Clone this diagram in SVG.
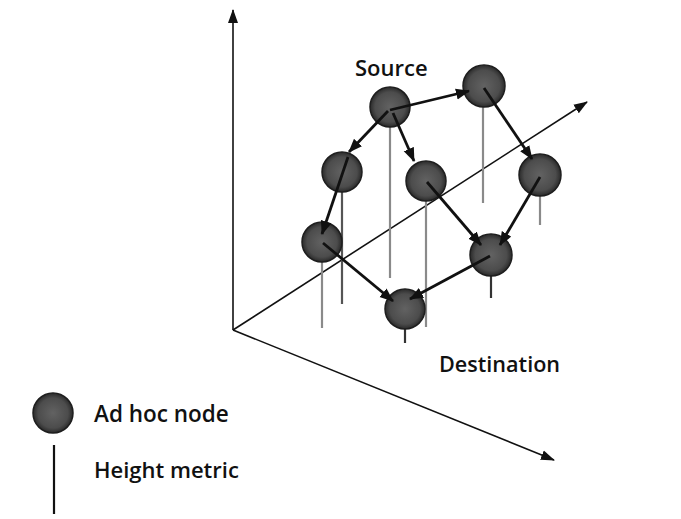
<svg xmlns="http://www.w3.org/2000/svg" width="681" height="519" viewBox="0 0 681 519">
<style>
.axis{stroke:#111;stroke-width:1.6;fill:none}
.edge{stroke:#111;stroke-width:2.8;fill:none}
.hm{stroke:#8a8a8a;stroke-width:2.2}
.node{fill:url(#ng);stroke:#1e1e1e;stroke-width:1.5}
.lbl{font-family:"Open Sans",sans-serif;font-weight:600;fill:#111}
</style>
<defs>
<radialGradient id="ng" cx="0.5" cy="0.5" r="0.5">
<stop offset="0" stop-color="#626262"/>
<stop offset="0.75" stop-color="#4c4c4c"/>
<stop offset="1" stop-color="#2a2a2a"/>
</radialGradient>
<marker id="ax" markerUnits="userSpaceOnUse" markerWidth="14" markerHeight="12" refX="13" refY="6" orient="auto">
<path d="M0,1 L14,6 L0,11 Z" fill="#111"/>
</marker>
<marker id="ar" markerUnits="userSpaceOnUse" markerWidth="14" markerHeight="12" refX="13" refY="6" orient="auto">
<path d="M0,0.5 L14,6 L0,11.5 Z" fill="#111"/>
</marker>
</defs>
<rect width="681" height="519" fill="#fff"/>
<g id="axes">
<line class="axis" x1="233" y1="330" x2="233" y2="10" marker-end="url(#ax)"/>
<line class="axis" x1="233" y1="330" x2="587" y2="102" marker-end="url(#ax)"/>
<line class="axis" x1="233" y1="330" x2="554" y2="460" marker-end="url(#ax)"/>
</g>
<g id="height-metrics">
<line class="hm" x1="390" y1="127" x2="390" y2="278"/>
<line class="hm" x1="483" y1="106" x2="483" y2="203"/>
<line class="hm" x1="342" y1="192" x2="342" y2="304" style="stroke:#555"/>
<line class="hm" x1="426" y1="201" x2="426" y2="327"/>
<line class="hm" x1="540" y1="196" x2="540" y2="225"/>
<line class="hm" x1="322" y1="262" x2="322" y2="328"/>
<line class="hm" x1="491" y1="276" x2="491" y2="298" style="stroke:#333"/>
<line class="hm" x1="405" y1="328" x2="405" y2="343" style="stroke:#333"/>
</g>
<g id="n-source"><circle class="node" cx="390" cy="107" r="20"/></g>
<g id="n-topright"><circle class="node" cx="484" cy="86" r="21"/></g>
<g id="n-left"><circle class="node" cx="342" cy="172" r="20"/></g>
<g id="n-middle"><circle class="node" cx="426" cy="181" r="20"/></g>
<g id="n-right"><circle class="node" cx="540" cy="175" r="21"/></g>
<g id="n-lowerleft"><circle class="node" cx="322" cy="242" r="20"/></g>
<g id="n-lowerright"><circle class="node" cx="491" cy="255" r="21"/></g>
<g id="n-bottom"><circle class="node" cx="405" cy="309" r="20"/></g>
<g id="connectors">
<line class="edge" x1="390" y1="110" x2="469" y2="91" marker-end="url(#ar)"/>
<line class="edge" x1="388" y1="111" x2="349" y2="152" marker-end="url(#ar)"/>
<line class="edge" x1="393" y1="113" x2="414" y2="161" marker-end="url(#ar)"/>
<line class="edge" x1="484" y1="88" x2="532" y2="159" marker-end="url(#ar)"/>
<line class="edge" x1="348" y1="157" x2="322" y2="234" marker-end="url(#ar)"/>
<line class="edge" x1="323" y1="243" x2="393" y2="301" marker-end="url(#ar)"/>
<line class="edge" x1="427" y1="182" x2="481" y2="245" marker-end="url(#ar)"/>
<line class="edge" x1="540" y1="177" x2="500" y2="245" marker-end="url(#ar)"/>
<line class="edge" x1="490" y1="256" x2="410" y2="299" marker-end="url(#ar)"/>
</g>
<g id="labels">
<text class="lbl" x="355" y="76" font-size="22">Source</text>
<text class="lbl" x="439" y="372" font-size="21.6">Destination</text>
</g>
<g id="legend">
<circle class="node" cx="53" cy="413" r="20"/>
<text class="lbl" x="94" y="422" font-size="22.5">Ad hoc node</text>
<line x1="54" y1="445" x2="54" y2="514" stroke="#111" stroke-width="2.2"/>
<text class="lbl" x="94" y="478" font-size="22">Height metric</text>
</g>
</svg>
